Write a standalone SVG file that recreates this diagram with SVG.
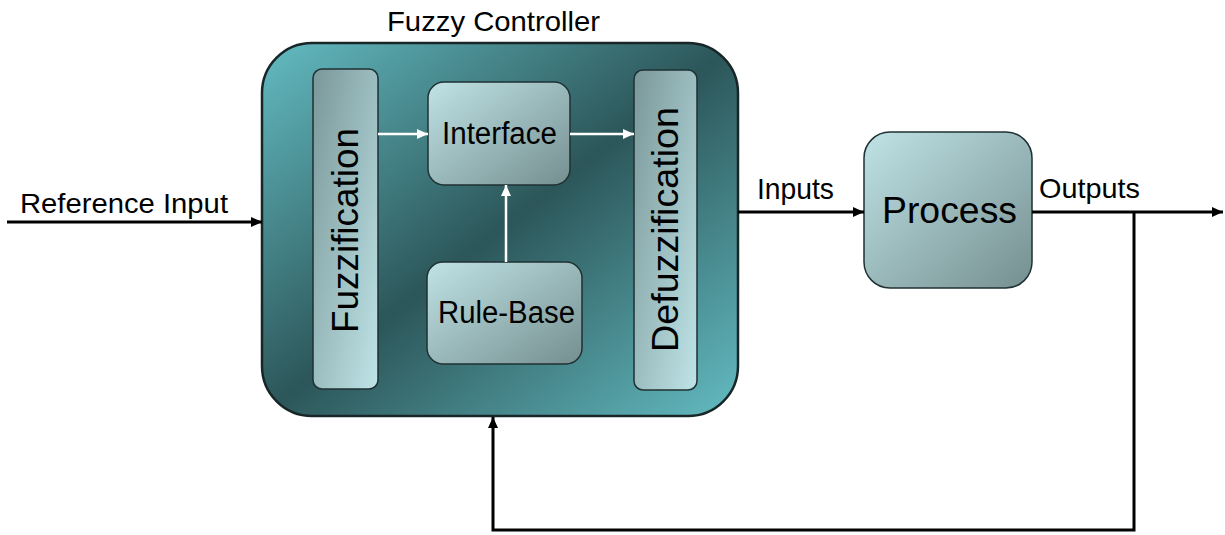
<svg xmlns="http://www.w3.org/2000/svg" width="1225" height="535" viewBox="0 0 1225 535">
  <defs>
    <!-- teal shading of the controller housing -->
    <linearGradient id="gHousing" x1="0" y1="0" x2="1" y2="1">
      <stop offset="0" stop-color="#63bcc2"/>
      <stop offset="0.5" stop-color="#2c5659"/>
      <stop offset="1" stop-color="#63bcc2"/>
    </linearGradient>
    <!-- vertical stage bars: darker top, light bottom -->
    <linearGradient id="gBar" x1="0" y1="0" x2="1" y2="1">
      <stop offset="0" stop-color="#7a9799"/>
      <stop offset="1" stop-color="#bfe4e7"/>
    </linearGradient>
    <!-- block shading: light top-left, darker bottom-right -->
    <linearGradient id="gBlock" x1="0" y1="0" x2="1" y2="1">
      <stop offset="0" stop-color="#c0e3e6"/>
      <stop offset="1" stop-color="#758f90"/>
    </linearGradient>
    <marker id="arrowBlack" markerUnits="userSpaceOnUse" markerWidth="12" markerHeight="12" refX="11" refY="6" orient="auto">
      <path d="M0,1 L11,6 L0,11 Z" fill="#000"/>
    </marker>
    <marker id="arrowWhite" markerUnits="userSpaceOnUse" markerWidth="12" markerHeight="12" refX="11" refY="6" orient="auto">
      <path d="M0,1 L11,6 L0,11 Z" fill="#fff"/>
    </marker>
  </defs>
  <style>
    .lbl { font-family: "Liberation Sans", Arial, sans-serif; fill: #000; }
    .wire { fill: none; stroke: #000; stroke-width: 3; marker-end: url(#arrowBlack); }
    .inner { fill: none; stroke: #fff; stroke-width: 2.5; marker-end: url(#arrowWhite); }
    .box { stroke: #1f3133; stroke-width: 1.5; }
  </style>

  <rect width="1225" height="535" fill="#fff"/>

  <g id="fuzzy-controller">
    <rect x="262" y="43" width="476" height="373" rx="50" fill="url(#gHousing)" stroke="#182628" stroke-width="2.5"/>
    <text class="lbl" x="387" y="31" font-size="28" textLength="213" lengthAdjust="spacingAndGlyphs">Fuzzy Controller</text>
  </g>

  <g id="fuzzification">
    <rect class="box" x="313" y="69" width="65" height="320" rx="9" fill="url(#gBar)"/>
    <text class="lbl" transform="translate(358,333) rotate(-90)" font-size="36" textLength="205" lengthAdjust="spacingAndGlyphs">Fuzzification</text>
  </g>

  <g id="interface">
    <rect class="box" x="428" y="82" width="142" height="103" rx="16" fill="url(#gBlock)"/>
    <text class="lbl" x="442" y="144" font-size="31" textLength="115" lengthAdjust="spacingAndGlyphs">Interface</text>
  </g>

  <g id="rule-base">
    <rect class="box" x="427" y="262" width="155" height="102" rx="16" fill="url(#gBlock)"/>
    <text class="lbl" x="438" y="323" font-size="31" textLength="137" lengthAdjust="spacingAndGlyphs">Rule-Base</text>
  </g>

  <g id="defuzzification">
    <rect class="box" x="634" y="70" width="63" height="320" rx="9" fill="url(#gBar)"/>
    <text class="lbl" transform="translate(678,352) rotate(-90)" font-size="36" textLength="245" lengthAdjust="spacingAndGlyphs">Defuzzification</text>
  </g>

  <g id="process">
    <rect class="box" x="864" y="132" width="168" height="156" rx="26" fill="url(#gBlock)"/>
    <text class="lbl" x="882" y="223" font-size="37" textLength="135" lengthAdjust="spacingAndGlyphs">Process</text>
  </g>

  <g id="connectors">
    <path class="wire" d="M7,222 H262"/>
    <path class="wire" d="M738,212 H864"/>
    <path class="wire" d="M1032,212 H1223"/>
    <path class="wire" d="M1134,212 V530 H493 V417"/>
    <path class="inner" d="M378,134 H428"/>
    <path class="inner" d="M570,134 H634"/>
    <path class="inner" d="M506,262 V185"/>
    <text class="lbl" x="20" y="213" font-size="27" textLength="208" lengthAdjust="spacingAndGlyphs">Reference Input</text>
    <text class="lbl" x="757" y="199" font-size="29" textLength="77" lengthAdjust="spacingAndGlyphs">Inputs</text>
    <text class="lbl" x="1039" y="198" font-size="28" textLength="101" lengthAdjust="spacingAndGlyphs">Outputs</text>
  </g>
</svg>
